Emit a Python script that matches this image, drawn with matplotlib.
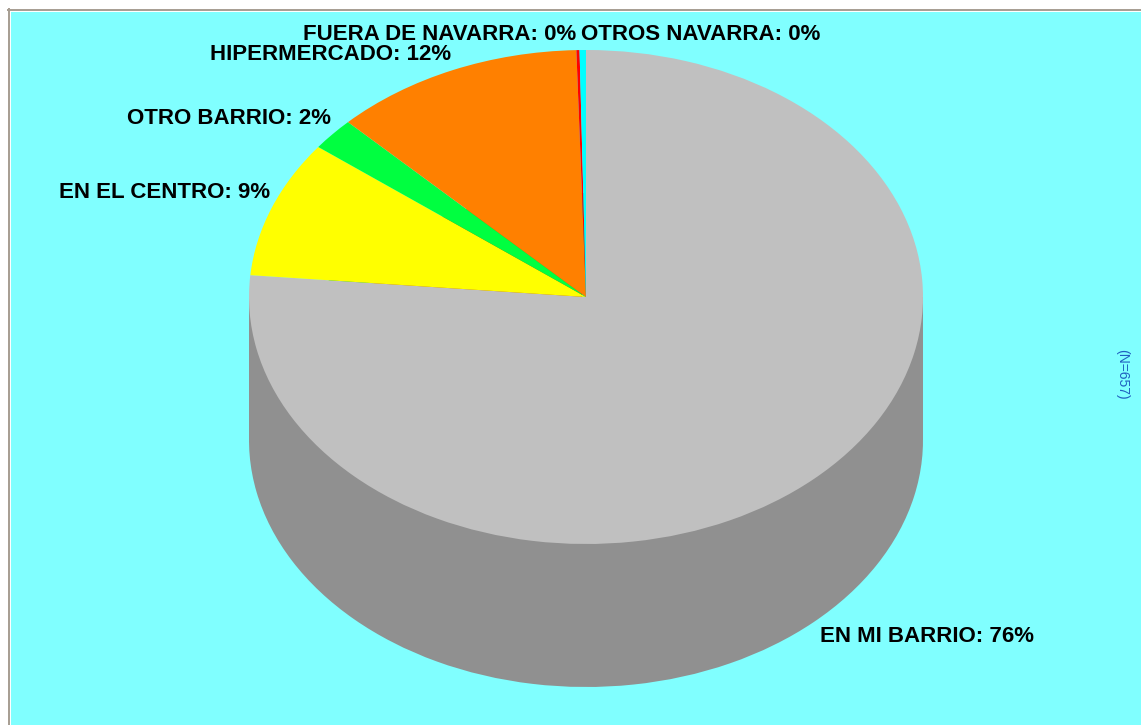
import numpy as np
import matplotlib
matplotlib.use('Agg')
import matplotlib.pyplot as plt
from matplotlib.patches import Rectangle
from matplotlib.lines import Line2D

plt.rcParams['font.family'] = ['Liberation Sans', 'DejaVu Sans']

categories = ['EN MI BARRIO', 'EN EL CENTRO', 'OTRO BARRIO', 'HIPERMERCADO',
              'FUERA DE NAVARRA', 'OTROS NAVARRA']
counts = [502, 59, 14, 79, 1, 2]
n_total = 657
top_colors = ['#C0C0C0', '#FFFF00', '#00FF40', '#FF8000', '#FF0000', '#00FFFF']
side_colors = ['#909090', '#C0C000', '#00C030', '#C06000', '#C00000', '#00C0C0']

W, H = 1141, 725
# ellipse geometry in pixels
cx, cy, rx, ry, depth_px = 586, 297, 337, 247, 143
depth = depth_px / ry

fig = plt.figure(figsize=(W / 100, H / 100), dpi=100, facecolor='white')
ax = fig.add_axes([11 / W, 0, (W - 11) / W, (H - 12) / H])

wp = dict(linewidth=0, antialiased=True)
# side of the cylinder
ax.pie(counts, colors=side_colors, startangle=90, counterclock=False,
       center=(0, -depth), wedgeprops=wp)
ax.add_patch(Rectangle((-1, -depth), 2, depth, facecolor=side_colors[0], linewidth=0))
# top face
wedges, _ = ax.pie(counts, colors=top_colors, startangle=90, counterclock=False,
                   wedgeprops=wp)

ax.set_aspect('auto')
ax.set_xlim((11 - cx) / rx, (W - cx) / rx)
ax.set_ylim((cy - H) / ry, (cy - 12) / ry)
ax.set_frame_on(True)
ax.set_facecolor('#80FFFF')
for s in ax.spines.values():
    s.set_visible(False)
ax.set_xticks([])
ax.set_yticks([])

px = 0.72  # pixels -> points
for w, cat, c in zip(wedges, categories, counts):
    ang = np.deg2rad((w.theta1 + w.theta2) / 2)
    x, y = np.cos(ang), np.sin(ang)
    txt = f'{cat}: {100 * c / n_total:.0f}%'
    if y < 0:
        ax.annotate(txt, (x, y - depth), xytext=(6 * px, -4 * px), textcoords='offset points',
                    ha='left' if x > 0 else 'right', va='top',
                    fontsize=16, fontweight='bold', color='black')
    else:
        ax.annotate(txt, (x, y), xytext=(-2 * px, 10 * px), textcoords='offset points',
                    ha='left' if x > -0.01 else 'right', va='baseline',
                    fontsize=16, fontweight='bold', color='black')

fig.text(1122 / W, 1 - 374 / H, f'(N={n_total})', rotation=270, ha='center', va='center',
         color='#2060C0', fontsize=10)

# frame lines at the top and left edges
fig.add_artist(Line2D([9 / W, 9 / W], [0, (H - 9) / H], color='#A89F94', linewidth=1.44))
fig.add_artist(Line2D([8 / W, 1], [(H - 10) / H, (H - 10) / H], color='#A89F94', linewidth=1.44))

fig.savefig('out.png', dpi=100, facecolor='white')
